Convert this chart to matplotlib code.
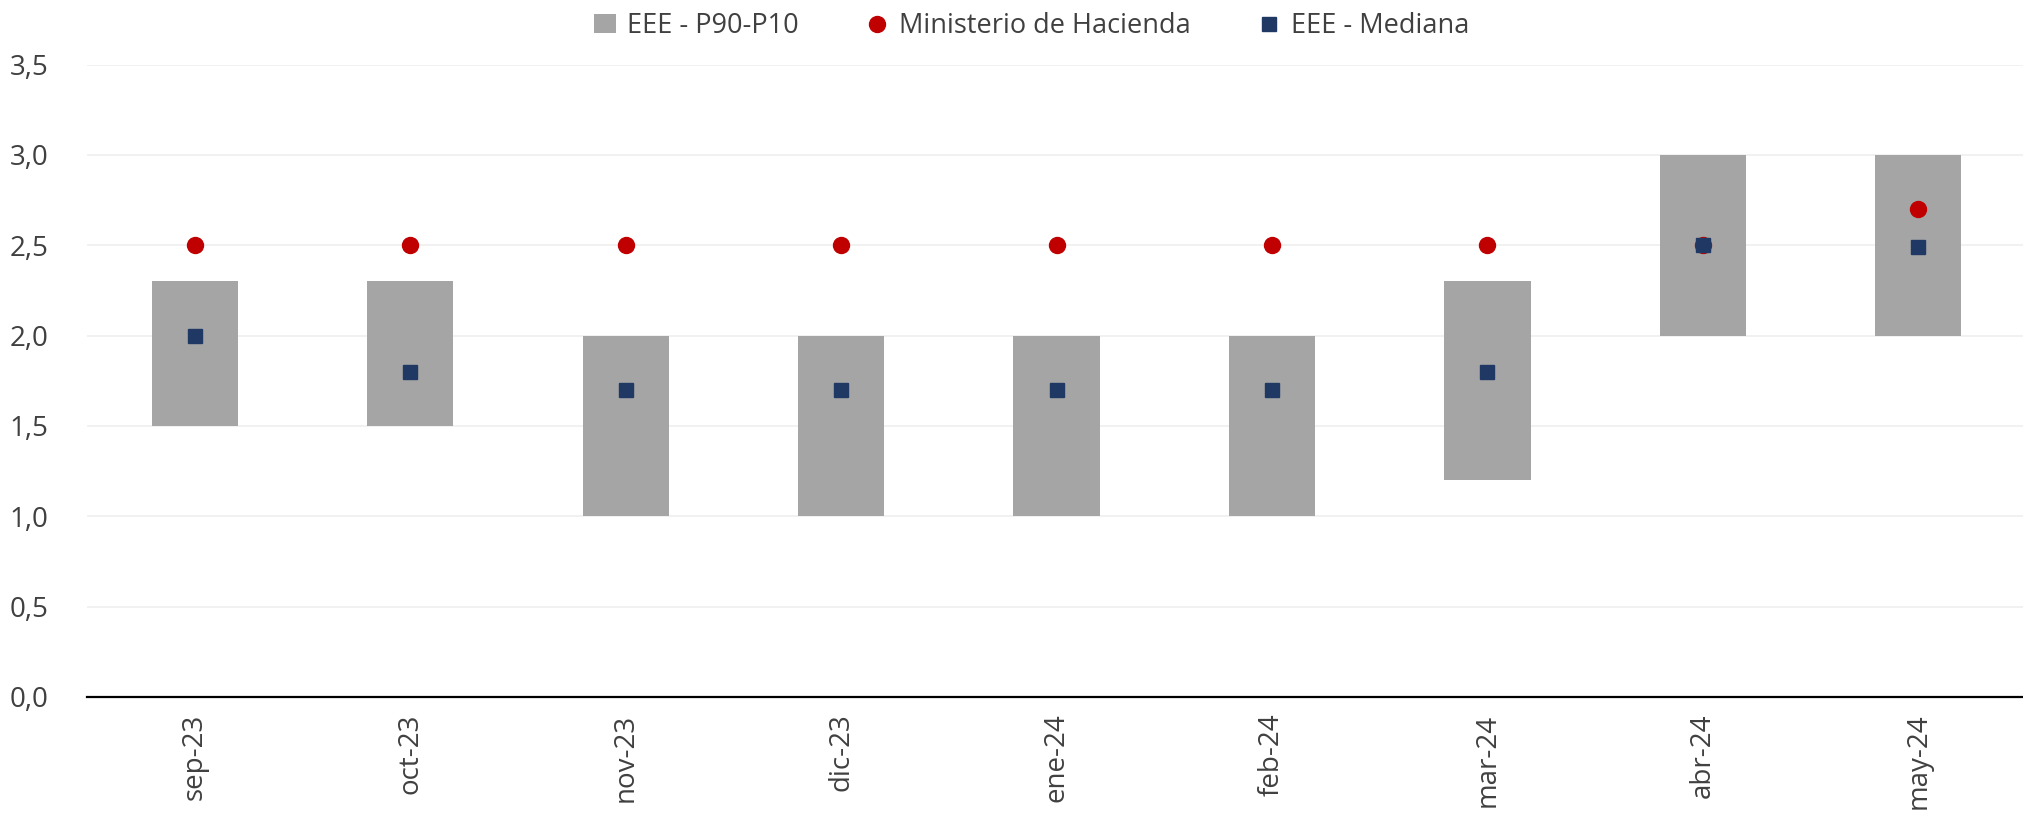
import numpy as np
import matplotlib
matplotlib.use("Agg")
from matplotlib import pyplot as plt

meses = ["sep-23", "oct-23", "nov-23", "dic-23", "ene-24", "feb-24", "mar-24", "abr-24", "may-24"]
p10 = [1.5, 1.5, 1.0, 1.0, 1.0, 1.0, 1.2, 2.0, 2.0]
p90 = [2.3, 2.3, 2.0, 2.0, 2.0, 2.0, 2.3, 3.0, 3.0]
mediana = [2.0, 1.8, 1.7, 1.7, 1.7, 1.7, 1.8, 2.5, 2.49]
hacienda = [2.5, 2.5, 2.5, 2.5, 2.5, 2.5, 2.5, 2.5, 2.7]

plt.rcParams['font.family'] = ['Open Sans', 'DejaVu Sans']

x = np.arange(len(meses))
fig = plt.figure(figsize=(20.23, 8.17), dpi=100)
ax = fig.add_axes([0.043, 0.147, 0.9585, 0.774])

h1 = ax.bar(x, np.array(p90) - np.array(p10), bottom=p10, width=0.4, color='#A5A5A5',
            linewidth=0, label='EEE - P90-P10', zorder=2)
h2, = ax.plot(x, hacienda, 'o', color='#C00000', markersize=11.5, label='Ministerio de Hacienda', zorder=3)
h3, = ax.plot(x, mediana, 's', color='#1F3864', markersize=10, label='EEE - Mediana', zorder=4)

ax.set_ylim(0, 3.5)
ax.set_xlim(-0.5, len(meses) - 0.5)
ax.set_yticks(np.arange(0, 3.51, 0.5))
ax.set_yticklabels([f"{v:.1f}".replace('.', ',') for v in np.arange(0, 3.51, 0.5)])
ax.set_xticks(x)
ax.set_xticklabels(meses, rotation=90)
ax.tick_params(axis='both', length=0, labelsize=20, colors='#404040', pad=12)
ax.tick_params(axis='y', pad=28)
ax.grid(axis='y', color='#EFEFEF', linewidth=1.2, zorder=0)
for s in ['top', 'right', 'left']:
    ax.spines[s].set_visible(False)
ax.spines['bottom'].set_linewidth(1.6)
ax.spines['bottom'].set_color('black')

fig.legend(handles=[h1, h2, h3], loc='center', bbox_to_anchor=(0.51, 0.968), ncol=3, frameon=False,
           fontsize=19.5, handlelength=0.8, handletextpad=0.4, columnspacing=2.5,
           labelcolor='#404040')

plt.savefig("out.png", dpi=100)
plt.close()
